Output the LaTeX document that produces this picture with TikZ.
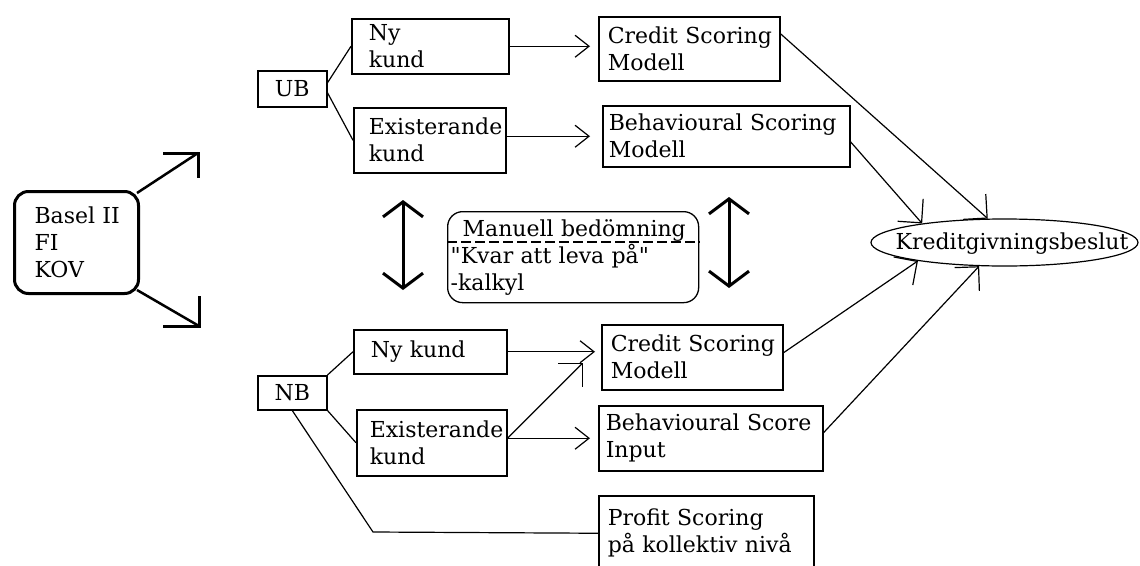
\documentclass[tikz,border=0pt]{standalone}
\usepackage{fontspec}
\setmainfont{DejaVu Serif}[Ligatures=TeXOff]
\usetikzlibrary{arrows.meta,shapes.geometric}
\hfuzz=200pt
\hbadness=10000
\begin{document}
\begin{tikzpicture}[x=1pt,y=-1pt,
  txt/.style={font=\fontsize{22pt}{27pt}\selectfont},
  bx/.style={draw, line width=1.5pt, rectangle, anchor=north west, align=left, inner ysep=0pt, txt},
  ln/.style={line width=1.2pt},
  hd/.style={ln, -{Straight Barb[length=14pt,width=22pt]}},
  dg/.style={ln, -{Straight Barb[length=17pt,width=34pt]}},
  dbl/.style={line width=3pt, {Straight Barb[length=15pt,width=40pt]}-{Straight Barb[length=15pt,width=40pt]}},
  thk/.style={line width=3pt, line join=miter}
]
\fill[white] (0,0) rectangle (1140,565);
\useasboundingbox (0,0) rectangle (1140,565);
\clip (0,0) rectangle (1140,565);

% left box
\node[bx, line width=3pt, rounded corners=14pt, minimum width=124pt, minimum height=102pt, inner xsep=20pt, text width=84pt, txt] (bas) at (13,190) {\mbox{Basel II}\\FI\\KOV};

% upper branch
\node[bx, align=center, inner xsep=0pt, minimum width=69pt, minimum height=36pt] (ub) at (257,70) {UB};
\node[bx, minimum width=157pt, minimum height=55pt, inner xsep=17pt, text width=123pt] (ny1) at (351,18) {Ny\\kund};
\node[bx, minimum width=152pt, minimum height=65pt, inner xsep=15pt, text width=122pt] (ex1) at (353,107) {Existerande\\kund};
\node[bx, minimum width=181pt, minimum height=64pt, inner xsep=9pt, text width=163pt] (cr1) at (598,16) {\mbox{Credit Scoring}\\Modell};
\node[bx, minimum width=247pt, minimum height=61pt, inner xsep=6pt, text width=235pt] (bh1) at (602,105) {\mbox{Behavioural Scoring}\\Modell};

% lower branch
\node[bx, align=center, inner xsep=0pt, minimum width=69pt, minimum height=34pt] (nb) at (257,375) {NB};
\node[bx, minimum width=153pt, minimum height=44pt, inner xsep=17pt, text width=119pt] (ny2) at (353,329) {\mbox{Ny kund}};
\node[bx, minimum width=150pt, minimum height=66pt, inner xsep=13pt, text width=124pt] (ex2) at (356,409) {Existerande\\kund};
\node[bx, minimum width=181pt, minimum height=65pt, inner xsep=9pt, text width=163pt] (cr2) at (601,324) {\mbox{Credit Scoring}\\Modell};
\node[bx, minimum width=224pt, minimum height=65pt, inner xsep=7pt, text width=210pt] (bi) at (598,405) {\mbox{Behavioural Score}\\Input};
\node[bx, minimum width=215pt, minimum height=75pt, inner xsep=9pt, text width=197pt] (pf) at (598,495) {\mbox{Profit Scoring}\\\mbox{på kollektiv nivå}};

% middle box
\node[bx, line width=1.3pt, rounded corners=15pt, minimum width=251pt, minimum height=91pt, inner xsep=3pt, text width=245pt] (man) at (447,211) {\hspace*{12pt}\mbox{Manuell bedömning}\\\mbox{"Kvar att leva på"}\\-kalkyl};
\draw[ln, dash pattern=on 10pt off 4pt] ([yshift=-31pt]man.north west) -- ([yshift=-31pt]man.north east);

% decision ellipse
\node[draw, ellipse, ln, minimum width=267pt, minimum height=47pt, inner sep=0pt, txt] (K) at (1004.5,242.5) {\raisebox{-7pt}[0pt][0pt]{\makebox[0pt]{\hspace{15pt}Kreditgivningsbeslut}}};

% connectors upper
\draw[ln] ([yshift=6pt]ub.east) -- (ny1.west);
\draw[ln] ([yshift=-4pt]ub.east) -- (ex1.west);
\draw[hd, shorten >=8pt] (ny1.east) -- (ny1.east -| cr1.west);
\draw[hd, shorten >=12pt] (bh1.west -| ex1.east) -- (bh1.west);
\draw[dg] ([yshift=15pt]cr1.east) -- (K.125);
\draw[dg] ([yshift=-5.5pt]bh1.east) -- (K.167);

% connectors lower
\draw[ln] (nb.north east) -- (ny2.west);
\draw[ln] (nb.south east) -- (ex2.west);
\draw[hd, shorten >=6pt] (ny2.east) -- (ny2.east -| cr2.west);
\draw[hd, shorten >=8pt] (bi.west -| ex2.east) -- (bi.west);
\draw[dg] (bi.west -| ex2.east) -- ([xshift=-18pt,yshift=-5.5pt]cr2.west);
\draw[dg] ([yshift=4.5pt]cr2.east) -- (K.192);
\draw[dg] ([yshift=5.5pt]bi.east) -- (K.223);
\coordinate (pbend) at (373,532);
\draw[ln] (nb.south) -- (pbend) -- (pf.west);

% Basel arrows
\coordinate (tA) at (198,153);
\coordinate (tB) at (199,326);
\draw[line width=2.5pt] ([shift={(-3pt,-3pt)}]bas.north east) -- (tA);
\draw[thk] ([xshift=-35pt]tA) -- (tA) -- ([yshift=-25pt]tA);
\draw[line width=2.5pt] ([shift={(-3pt,5pt)}]bas.south east) -- (tB);
\draw[thk] ([xshift=-36pt]tB) -- (tB) -- ([yshift=30pt]tB);

% double arrows
\coordinate (dA1) at (403,200);
\coordinate (dA2) at (403,290);
\coordinate (dB1) at (729,197);
\coordinate (dB2) at (729,288);
\draw[dbl] (dA1) -- (dA2);
\draw[dbl] (dB1) -- (dB2);
\end{tikzpicture}
\end{document}
